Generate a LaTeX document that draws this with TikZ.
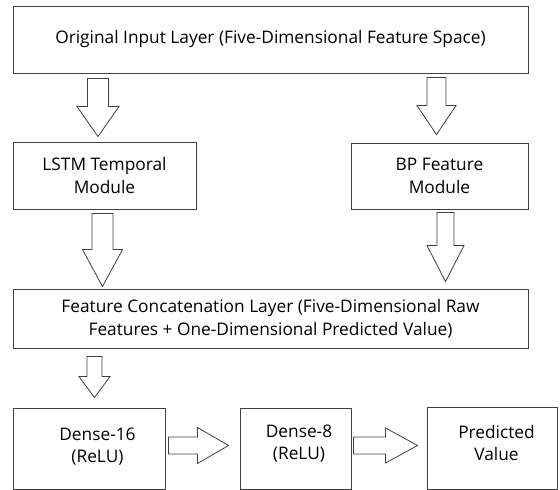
\documentclass[tikz,border=0pt]{standalone}
\usepackage{fontspec}
\setmainfont{Open Sans}
\usetikzlibrary{calc}

\definecolor{edge}{HTML}{404040}

\tikzset{
  box/.style={draw=edge, line width=0.9pt, rectangle, inner sep=0pt,
              align=center, font=\fontsize{17.3}{23}\selectfont},
  label/.style={align=center, inner sep=0pt, font=\fontsize{17.3}{22}\selectfont},
  blockarrow/.style={draw=edge, line width=0.8pt, fill=white, line join=miter}
}

% vertical block arrow from the bottom of #1 to the top of #2 at x = #3
% #4 top gap, #5 bottom gap, #6 shaft half width, #7 head half width, #8 head length
\newcommand\vblock[8]{%
  \draw[blockarrow] let \p1=(#1.south), \p2=(#2.north) in
    (#3pt-#6pt, \y1-#4pt) -- (#3pt+#6pt, \y1-#4pt)
    -- (#3pt+#6pt, \y2+#5pt+#8pt) -- (#3pt+#7pt, \y2+#5pt+#8pt)
    -- (#3pt, \y2+#5pt)
    -- (#3pt-#7pt, \y2+#5pt+#8pt) -- (#3pt-#6pt, \y2+#5pt+#8pt) -- cycle;}

% horizontal block arrow from the right of #1 to the left of #2 at y = -#3
\newcommand\hblock[8]{%
  \draw[blockarrow] let \p1=(#1.east), \p2=(#2.west) in
    (\x1+#4pt, -#3pt+#6pt) -- (\x2-#5pt-#8pt, -#3pt+#6pt)
    -- (\x2-#5pt-#8pt, -#3pt+#7pt) -- (\x2-#5pt, -#3pt)
    -- (\x2-#5pt-#8pt, -#3pt-#7pt) -- (\x2-#5pt-#8pt, -#3pt-#6pt)
    -- (\x1+#4pt, -#3pt-#6pt) -- cycle;}

\begin{document}
\begin{tikzpicture}[x=1pt, y=-1pt]
\useasboundingbox (0,0) rectangle (560,490);

\node[box, minimum width=515pt, minimum height=67pt] (input) at (270.5,39.5)
  {Original Input Layer (Five-Dimensional Feature Space)};
\node[box, minimum width=183pt, minimum height=67pt] (lstm) at (104.5,175.5)
  {LSTM Temporal\\Module};
\node[box, minimum width=177pt, minimum height=66pt] (bp) at (439.5,176)
  {BP Feature\\Module};
\node[box, minimum width=515pt, minimum height=59pt] (concat) at (270.5,318.5)
  {Feature Concatenation Layer (Five-Dimensional Raw\\Features + One-Dimensional Predicted Value)};
\node[box, minimum width=152pt, minimum height=81pt] (d16) at (89,448.5) {};
\node[label] (d16t) at (97.5,447) {Dense-16\\(ReLU)};
\node[box, minimum width=111pt, minimum height=81pt] (d8) at (295.5,448.5) {};
\node[label] (d8t) at (299,444) {Dense-8\\(ReLU)};
\node[box, minimum width=130pt, minimum height=82pt] (pred) at (492,448) {};
\node[label] (predt) at (496.5,443) {Predicted\\Value};

\vblock{input}{lstm}{98}{5}{5}{10.5}{21}{30}
\vblock{input}{bp}{436.5}{4}{8}{9.5}{19.5}{29}
\vblock{lstm}{concat}{102.5}{4}{2}{10.5}{20}{37}
\vblock{bp}{concat}{445.5}{3}{7}{8.5}{18.5}{36}
\vblock{concat}{d16}{94.5}{8}{10}{7.5}{15.5}{21}
\hblock{d16}{d8}{445.5}{3}{11}{8.5}{18}{31}
\hblock{d8}{pred}{445.5}{2}{9}{8.5}{17.5}{32}
\end{tikzpicture}
\end{document}
